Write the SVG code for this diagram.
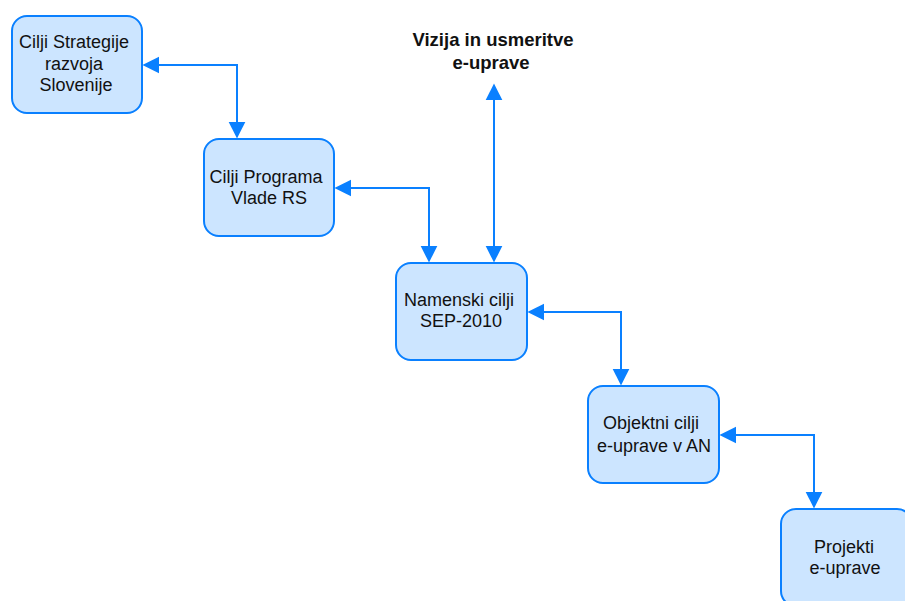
<svg xmlns="http://www.w3.org/2000/svg" width="905" height="601" viewBox="0 0 905 601">
<style>
.box{fill:#CCE5FF;stroke:#0A80FF;stroke-width:2}
.t{font-family:"Liberation Sans",Arial,sans-serif;font-size:18px;fill:#111;text-anchor:middle}
.b{font-family:"Liberation Sans",Arial,sans-serif;font-size:18.5px;font-weight:bold;fill:#111;text-anchor:middle}
.c{fill:none;stroke:#0A80FF;stroke-width:2}
</style>
<defs>
<marker id="ah" markerUnits="userSpaceOnUse" markerWidth="18" markerHeight="18" viewBox="0 -9 18 18" refX="0" refY="0" orient="auto-start-reverse" overflow="visible">
<path d="M0,-8.3 L16.6,0 L0,8.3 Z" fill="#0A80FF"/>
</marker>
</defs>
<rect width="905" height="601" fill="#fff"/>
<g id="connectors">
<path class="c" d="M159,65 H237 V122" marker-start="url(#ah)" marker-end="url(#ah)"/>
<path class="c" d="M351,188 H429 V246" marker-start="url(#ah)" marker-end="url(#ah)"/>
<path class="c" d="M494,100 V246" marker-start="url(#ah)" marker-end="url(#ah)"/>
<path class="c" d="M544,312 H621 V369" marker-start="url(#ah)" marker-end="url(#ah)"/>
<path class="c" d="M736,435 H814 V492" marker-start="url(#ah)" marker-end="url(#ah)"/>
</g>
<g id="vizija">
<text class="b" x="493" y="46">Vizija in usmeritve</text>
<text class="b" x="491" y="69">e-uprave</text>
</g>
<g id="n1">
<rect class="box" x="12" y="16" width="130" height="97" rx="15"/>
<text class="t" x="74" y="48">Cilji Strategije</text>
<text class="t" x="74" y="70">razvoja</text>
<text class="t" x="76" y="91">Slovenije</text>
</g>
<g id="n2">
<rect class="box" x="204" y="139" width="130" height="97" rx="15"/>
<text class="t" x="266" y="183">Cilji Programa</text>
<text class="t" x="269" y="204">Vlade RS</text>
</g>
<g id="n3">
<rect class="box" x="396" y="263" width="131" height="97" rx="15"/>
<text class="t" x="459" y="306">Namenski cilji</text>
<text class="t" x="461" y="327">SEP-2010</text>
</g>
<g id="n4">
<rect class="box" x="588" y="386" width="131" height="97" rx="15"/>
<text class="t" x="651" y="429">Objektni cilji</text>
<text class="t" x="654" y="452">e-uprave v AN</text>
</g>
<g id="n5">
<rect class="box" x="781" y="509" width="131" height="97" rx="15"/>
<text class="t" x="844" y="553">Projekti</text>
<text class="t" x="845" y="574">e-uprave</text>
</g>
</svg>
